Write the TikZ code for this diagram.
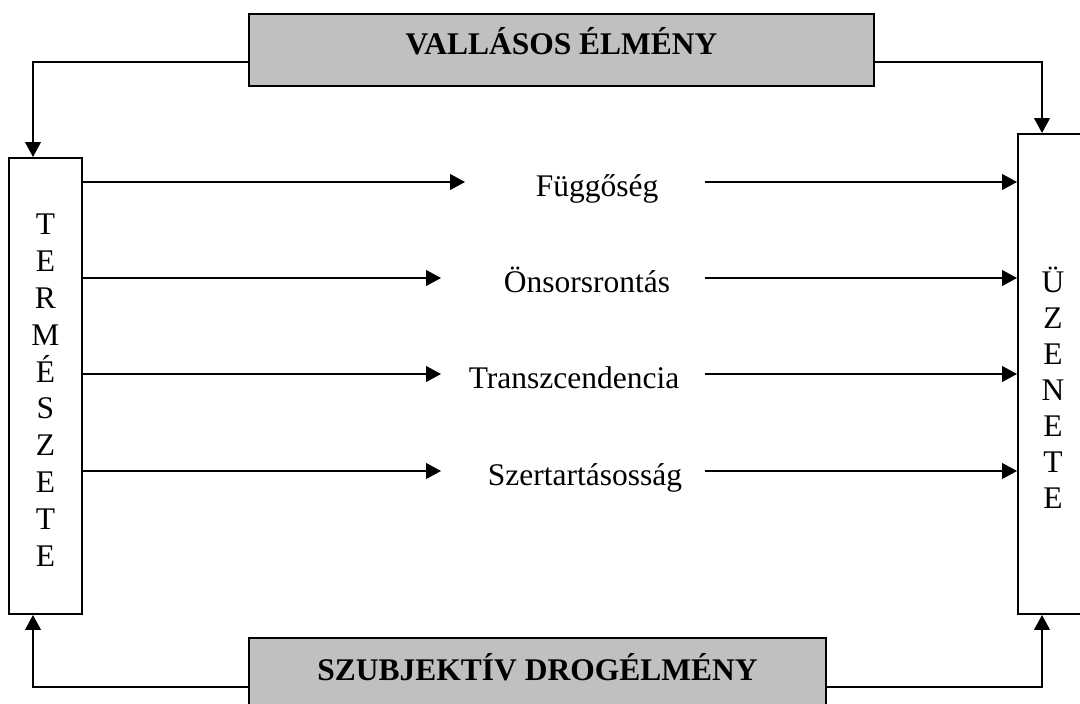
\documentclass[tikz,border=0pt]{standalone}
\usepackage{fontspec}
\setmainfont{Liberation Serif}
\usetikzlibrary{arrows.meta}
\definecolor{boxgray}{HTML}{C0C0C0}
\newcommand\diagfont{\fontsize{15.75pt}{18pt}\selectfont}
\begin{document}
\begin{tikzpicture}[x=0.5pt,y=-0.5pt,
  box/.style={draw, line width=1pt, inner sep=0pt},
  graybox/.style={box, fill=boxgray, font=\bfseries\diagfont},
  conn/.style={line width=0.85pt},
  arr/.style={conn, -{Triangle[length=7.4pt,width=7.8pt]}},
  lbl/.style={font=\diagfont, anchor=base, inner sep=0pt},
  ltr/.style={font=\diagfont, anchor=base, inner sep=0pt}]
\clip (0,0) rectangle (1080,704);
\fill[white] (0,0) rectangle (1080,704);
\node[graybox, minimum width=312.5pt, minimum height=36pt, text height=10.5pt, text depth=5.5pt] (vall) at (561.5,50) {VALLÁSOS ÉLMÉNY};
\node[graybox, minimum width=288.5pt, minimum height=36pt, text height=10.5pt, text depth=4.5pt] (szub) at (537.5,674) {SZUBJEKTÍV DROGÉLMÉNY};
\node[box, minimum width=36.5pt, minimum height=228pt] (term) at (45.5,386) {};
\node[box, minimum width=36.5pt, minimum height=240pt] (uzen) at (1054.5,374) {};
\foreach \l [count=\i from 0] in {T,E,R,M,É,S,Z,E,T,E}
  \node[ltr] (t\i) at (45.5,235+\i*36.8) {\l};
\foreach \l [count=\i from 0] in {Ü,Z,E,N,E,T,E}
  \node[ltr] (u\i) at (1053,293+\i*36) {\l};
\foreach \y/\tip/\cx/\txt [count=\i] in {182/465/597/Függőség, 278/441/587/Önsorsrontás, 374/441/574/Transzcendencia, 471/441/585/Szertartásosság} {
  \coordinate (tip\i) at (\tip,\y);
  \coordinate (st\i) at (705,\y);
  \node[lbl] (lab\i) at (\cx,\y+15) {\txt};
  \draw[arr] (term.east |- tip\i) -- (tip\i);
  \draw[arr] (st\i) -- (uzen.west |- st\i);
}
\draw[arr] ([yshift=-6pt]vall.west) -| ([xshift=-6.25pt]term.north);
\draw[arr] ([yshift=-6pt]vall.east) -| ([xshift=-6.25pt]uzen.north);
\draw[arr] ([yshift=-6.5pt]szub.west) -| ([xshift=-6.25pt]term.south);
\draw[arr] ([yshift=-6.5pt]szub.east) -| ([xshift=-6.25pt]uzen.south);
\end{tikzpicture}
\end{document}
